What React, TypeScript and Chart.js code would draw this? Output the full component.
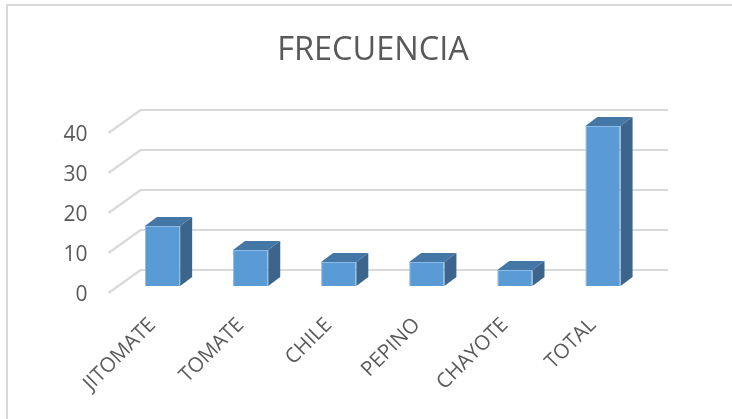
import React, { useEffect, useRef } from "react";
import { Chart, registerables } from "chart.js";

Chart.register(...registerables);

const categories = ["JITOMATE", "TOMATE", "CHILE", "PEPINO", "CHAYOTE", "TOTAL"];
const frecuencia = [15, 9, 6, 6, 4, 40];
const yTicks = [0, 10, 20, 30, 40];

const FONT = '"Open Sans", sans-serif';
const TEXT = "#595959";
const GRID = "#d9d9d9";
const FRONT = "#5b9bd5";
const TOP = "#4577a6";
const SIDE = "#3b658c";

const bar3d = {
  id: "bar3d",
  beforeDatasetsDraw(chart: any) {
    const { ctx, scales } = chart;
    const y = scales.y;
    const left = scales.x.left;
    const right = scales.x.right;
    ctx.save();
    ctx.strokeStyle = GRID;
    ctx.lineWidth = 2.2;
    yTicks.forEach((v) => {
      const by = y.getPixelForValue(v) - 16;
      ctx.beginPath();
      ctx.moveTo(left - 10, by + 23);
      ctx.lineTo(left + 22, by);
      ctx.lineTo(right + 21, by);
      ctx.stroke();
    });
    const dx = 12;
    const dy = 9;
    chart.getDatasetMeta(0).data.forEach((b: any) => {
      const l = b.x - b.width / 2;
      const r = b.x + b.width / 2;
      ctx.fillStyle = TOP;
      ctx.beginPath();
      ctx.moveTo(l, b.y);
      ctx.lineTo(l + dx, b.y - dy);
      ctx.lineTo(r + dx, b.y - dy);
      ctx.lineTo(r, b.y);
      ctx.closePath();
      ctx.fill();
      ctx.fillStyle = SIDE;
      ctx.beginPath();
      ctx.moveTo(r, b.y);
      ctx.lineTo(r + dx, b.y - dy);
      ctx.lineTo(r + dx, b.base - dy);
      ctx.lineTo(r, b.base);
      ctx.closePath();
      ctx.fill();
    });
    ctx.restore();
  },
};

export default function App() {
  const ref = useRef<HTMLCanvasElement>(null);
  useEffect(() => {
    const chart = new Chart(ref.current as HTMLCanvasElement, {
      type: "bar",
      data: {
        labels: categories,
        datasets: [
          {
            label: "FRECUENCIA",
            data: frecuencia,
            backgroundColor: FRONT,
            borderColor: "#8fbbe4",
            borderWidth: 1,
            barPercentage: 0.4,
            categoryPercentage: 1,
          },
        ],
      },
      options: {
        responsive: false,
        animation: false,
        layout: { autoPadding: false, padding: { left: 14, right: 0, top: 0, bottom: 0 } },
        plugins: {
          legend: { display: false },
          tooltip: { enabled: false },
          title: {
            display: true,
            text: "FRECUENCIA",
            color: TEXT,
            font: { family: FONT, size: 32.5, weight: "400" },
            padding: { top: 31.5, bottom: 55.5 },
          },
        },
        scales: {
          x: {
            grid: { display: false },
            border: { display: false },
            afterFit: (s: any) => {
              s.height = 133;
            },
            ticks: {
              autoSkip: false,
              minRotation: 45,
              maxRotation: 45,
              padding: 19,
              labelOffset: -10,
              color: TEXT,
              font: { family: FONT, size: 20.5 },
            },
          },
          y: {
            min: 0,
            max: 40,
            grid: { display: false },
            border: { display: false },
            afterFit: (s: any) => {
              s.width = 104.5;
            },
            ticks: {
              stepSize: 10,
              padding: 23,
              labelOffset: 9,
              color: TEXT,
              font: { family: FONT, size: 21 },
            },
          },
          spacer: {
            position: "right",
            grid: { display: false },
            border: { display: false },
            ticks: { display: false },
            afterFit: (s: any) => {
              s.width = 85;
            },
          },
        },
      },
      plugins: [bar3d],
    } as any);
    return () => chart.destroy();
  }, []);
  return (
    <div style={{ position: "absolute", left: 0, top: 0, width: 732, height: 419, background: "#fff", overflow: "hidden" }}>
      <div
        style={{
          position: "absolute",
          left: 6,
          top: 4,
          right: 0,
          bottom: 0,
          borderTop: `2px solid ${GRID}`,
          borderLeft: `2px solid ${GRID}`,
        }}
      />
      <canvas ref={ref} width={732} height={419} style={{ position: "absolute", left: 0, top: 0 }} />
    </div>
  );
}
